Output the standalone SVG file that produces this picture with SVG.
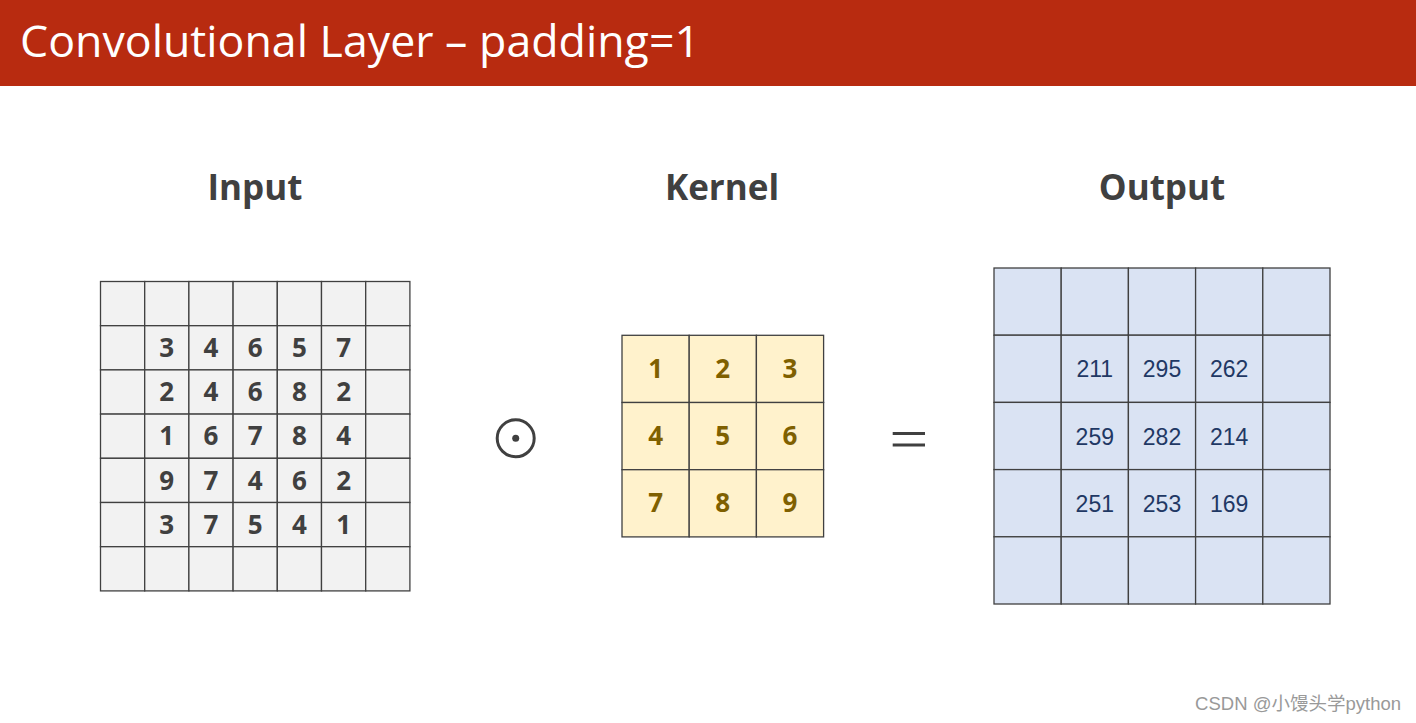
<svg xmlns="http://www.w3.org/2000/svg" width="1416" height="723" viewBox="0 0 1416 723">
<style>
.hdr{font-family:"Open Sans","Noto Sans",sans-serif;font-weight:bold;font-size:35px;fill:#404040;text-anchor:middle}
.in rect{fill:#F2F2F2;stroke:#404040;stroke-width:1.3}
.kn rect{fill:#FFF2CC;stroke:#404040;stroke-width:1.3}
.out rect{fill:#DAE3F3;stroke:#404040;stroke-width:1.3}
.nin{font-family:"Open Sans","Noto Sans",sans-serif;font-weight:bold;font-size:26px;fill:#404040;text-anchor:middle}
.nk{font-family:"Open Sans","Noto Sans",sans-serif;font-weight:bold;font-size:26px;fill:#7F6000;text-anchor:middle}
.no{font-family:"Liberation Sans",Arial,sans-serif;font-size:23px;fill:#1F3864;text-anchor:middle}
</style>
<rect x="0" y="0" width="1416" height="723" fill="#FFFFFF"/>
<g id="title">
<rect x="0" y="0" width="1416" height="86" fill="#B82B10"/>
<text x="20" y="57" font-family="Open Sans,Noto Sans,sans-serif" font-size="43" fill="#FFFFFF" textLength="680" lengthAdjust="spacingAndGlyphs">Convolutional Layer – padding=1</text>
</g>
<g id="headers">
<text class="hdr" x="255" y="200">Input</text>
<text class="hdr" x="722" y="200">Kernel</text>
<text class="hdr" x="1162" y="200">Output</text>
</g>
<g id="input" class="in">
<rect x="100.5" y="281.5" width="44.2" height="44.2"/><rect x="144.7" y="281.5" width="44.2" height="44.2"/><rect x="188.9" y="281.5" width="44.2" height="44.2"/><rect x="233.1" y="281.5" width="44.2" height="44.2"/><rect x="277.3" y="281.5" width="44.2" height="44.2"/><rect x="321.5" y="281.5" width="44.2" height="44.2"/><rect x="365.7" y="281.5" width="44.2" height="44.2"/>
<rect x="100.5" y="325.7" width="44.2" height="44.2"/><rect x="144.7" y="325.7" width="44.2" height="44.2"/><rect x="188.9" y="325.7" width="44.2" height="44.2"/><rect x="233.1" y="325.7" width="44.2" height="44.2"/><rect x="277.3" y="325.7" width="44.2" height="44.2"/><rect x="321.5" y="325.7" width="44.2" height="44.2"/><rect x="365.7" y="325.7" width="44.2" height="44.2"/>
<rect x="100.5" y="369.9" width="44.2" height="44.2"/><rect x="144.7" y="369.9" width="44.2" height="44.2"/><rect x="188.9" y="369.9" width="44.2" height="44.2"/><rect x="233.1" y="369.9" width="44.2" height="44.2"/><rect x="277.3" y="369.9" width="44.2" height="44.2"/><rect x="321.5" y="369.9" width="44.2" height="44.2"/><rect x="365.7" y="369.9" width="44.2" height="44.2"/>
<rect x="100.5" y="414.1" width="44.2" height="44.2"/><rect x="144.7" y="414.1" width="44.2" height="44.2"/><rect x="188.9" y="414.1" width="44.2" height="44.2"/><rect x="233.1" y="414.1" width="44.2" height="44.2"/><rect x="277.3" y="414.1" width="44.2" height="44.2"/><rect x="321.5" y="414.1" width="44.2" height="44.2"/><rect x="365.7" y="414.1" width="44.2" height="44.2"/>
<rect x="100.5" y="458.3" width="44.2" height="44.2"/><rect x="144.7" y="458.3" width="44.2" height="44.2"/><rect x="188.9" y="458.3" width="44.2" height="44.2"/><rect x="233.1" y="458.3" width="44.2" height="44.2"/><rect x="277.3" y="458.3" width="44.2" height="44.2"/><rect x="321.5" y="458.3" width="44.2" height="44.2"/><rect x="365.7" y="458.3" width="44.2" height="44.2"/>
<rect x="100.5" y="502.5" width="44.2" height="44.2"/><rect x="144.7" y="502.5" width="44.2" height="44.2"/><rect x="188.9" y="502.5" width="44.2" height="44.2"/><rect x="233.1" y="502.5" width="44.2" height="44.2"/><rect x="277.3" y="502.5" width="44.2" height="44.2"/><rect x="321.5" y="502.5" width="44.2" height="44.2"/><rect x="365.7" y="502.5" width="44.2" height="44.2"/>
<rect x="100.5" y="546.7" width="44.2" height="44.2"/><rect x="144.7" y="546.7" width="44.2" height="44.2"/><rect x="188.9" y="546.7" width="44.2" height="44.2"/><rect x="233.1" y="546.7" width="44.2" height="44.2"/><rect x="277.3" y="546.7" width="44.2" height="44.2"/><rect x="321.5" y="546.7" width="44.2" height="44.2"/><rect x="365.7" y="546.7" width="44.2" height="44.2"/>
<text class="nin" x="166.8" y="357">3</text><text class="nin" x="211" y="357">4</text><text class="nin" x="255.2" y="357">6</text><text class="nin" x="299.4" y="357">5</text><text class="nin" x="343.6" y="357">7</text>
<text class="nin" x="166.8" y="401.2">2</text><text class="nin" x="211" y="401.2">4</text><text class="nin" x="255.2" y="401.2">6</text><text class="nin" x="299.4" y="401.2">8</text><text class="nin" x="343.6" y="401.2">2</text>
<text class="nin" x="166.8" y="445.4">1</text><text class="nin" x="211" y="445.4">6</text><text class="nin" x="255.2" y="445.4">7</text><text class="nin" x="299.4" y="445.4">8</text><text class="nin" x="343.6" y="445.4">4</text>
<text class="nin" x="166.8" y="489.6">9</text><text class="nin" x="211" y="489.6">7</text><text class="nin" x="255.2" y="489.6">4</text><text class="nin" x="299.4" y="489.6">6</text><text class="nin" x="343.6" y="489.6">2</text>
<text class="nin" x="166.8" y="533.8">3</text><text class="nin" x="211" y="533.8">7</text><text class="nin" x="255.2" y="533.8">5</text><text class="nin" x="299.4" y="533.8">4</text><text class="nin" x="343.6" y="533.8">1</text>
</g>
<g id="odot">
<circle cx="515.7" cy="438.3" r="18.5" fill="none" stroke="#404040" stroke-width="3"/>
<circle cx="515.7" cy="438.3" r="3.5" fill="#404040"/>
</g>
<g id="kernel" class="kn">
<rect x="622" y="335.3" width="67.2" height="67.2"/><rect x="689.2" y="335.3" width="67.2" height="67.2"/><rect x="756.4" y="335.3" width="67.2" height="67.2"/>
<rect x="622" y="402.5" width="67.2" height="67.2"/><rect x="689.2" y="402.5" width="67.2" height="67.2"/><rect x="756.4" y="402.5" width="67.2" height="67.2"/>
<rect x="622" y="469.7" width="67.2" height="67.2"/><rect x="689.2" y="469.7" width="67.2" height="67.2"/><rect x="756.4" y="469.7" width="67.2" height="67.2"/>
<text class="nk" x="655.6" y="378">1</text><text class="nk" x="722.8" y="378">2</text><text class="nk" x="790" y="378">3</text>
<text class="nk" x="655.6" y="445.2">4</text><text class="nk" x="722.8" y="445.2">5</text><text class="nk" x="790" y="445.2">6</text>
<text class="nk" x="655.6" y="512.4">7</text><text class="nk" x="722.8" y="512.4">8</text><text class="nk" x="790" y="512.4">9</text>
</g>
<g id="equals">
<rect x="892.7" y="432" width="32.3" height="3" fill="#404040"/>
<rect x="892.7" y="443.5" width="32.3" height="3" fill="#404040"/>
</g>
<g id="output" class="out">
<rect x="994" y="268" width="67.2" height="67.2"/><rect x="1061.2" y="268" width="67.2" height="67.2"/><rect x="1128.4" y="268" width="67.2" height="67.2"/><rect x="1195.6" y="268" width="67.2" height="67.2"/><rect x="1262.8" y="268" width="67.2" height="67.2"/>
<rect x="994" y="335.2" width="67.2" height="67.2"/><rect x="1061.2" y="335.2" width="67.2" height="67.2"/><rect x="1128.4" y="335.2" width="67.2" height="67.2"/><rect x="1195.6" y="335.2" width="67.2" height="67.2"/><rect x="1262.8" y="335.2" width="67.2" height="67.2"/>
<rect x="994" y="402.4" width="67.2" height="67.2"/><rect x="1061.2" y="402.4" width="67.2" height="67.2"/><rect x="1128.4" y="402.4" width="67.2" height="67.2"/><rect x="1195.6" y="402.4" width="67.2" height="67.2"/><rect x="1262.8" y="402.4" width="67.2" height="67.2"/>
<rect x="994" y="469.6" width="67.2" height="67.2"/><rect x="1061.2" y="469.6" width="67.2" height="67.2"/><rect x="1128.4" y="469.6" width="67.2" height="67.2"/><rect x="1195.6" y="469.6" width="67.2" height="67.2"/><rect x="1262.8" y="469.6" width="67.2" height="67.2"/>
<rect x="994" y="536.8" width="67.2" height="67.2"/><rect x="1061.2" y="536.8" width="67.2" height="67.2"/><rect x="1128.4" y="536.8" width="67.2" height="67.2"/><rect x="1195.6" y="536.8" width="67.2" height="67.2"/><rect x="1262.8" y="536.8" width="67.2" height="67.2"/>
<text class="no" x="1094.8" y="377.3">211</text><text class="no" x="1162" y="377.3">295</text><text class="no" x="1229.2" y="377.3">262</text>
<text class="no" x="1094.8" y="444.5">259</text><text class="no" x="1162" y="444.5">282</text><text class="no" x="1229.2" y="444.5">214</text>
<text class="no" x="1094.8" y="511.7">251</text><text class="no" x="1162" y="511.7">253</text><text class="no" x="1229.2" y="511.7">169</text>
</g>
<g id="watermark">
<text x="1401" y="710" text-anchor="end" font-family="Liberation Sans,Noto Sans CJK SC,sans-serif" font-size="18.5" fill="#999999">CSDN @小馒头学python</text>
</g>
</svg>
